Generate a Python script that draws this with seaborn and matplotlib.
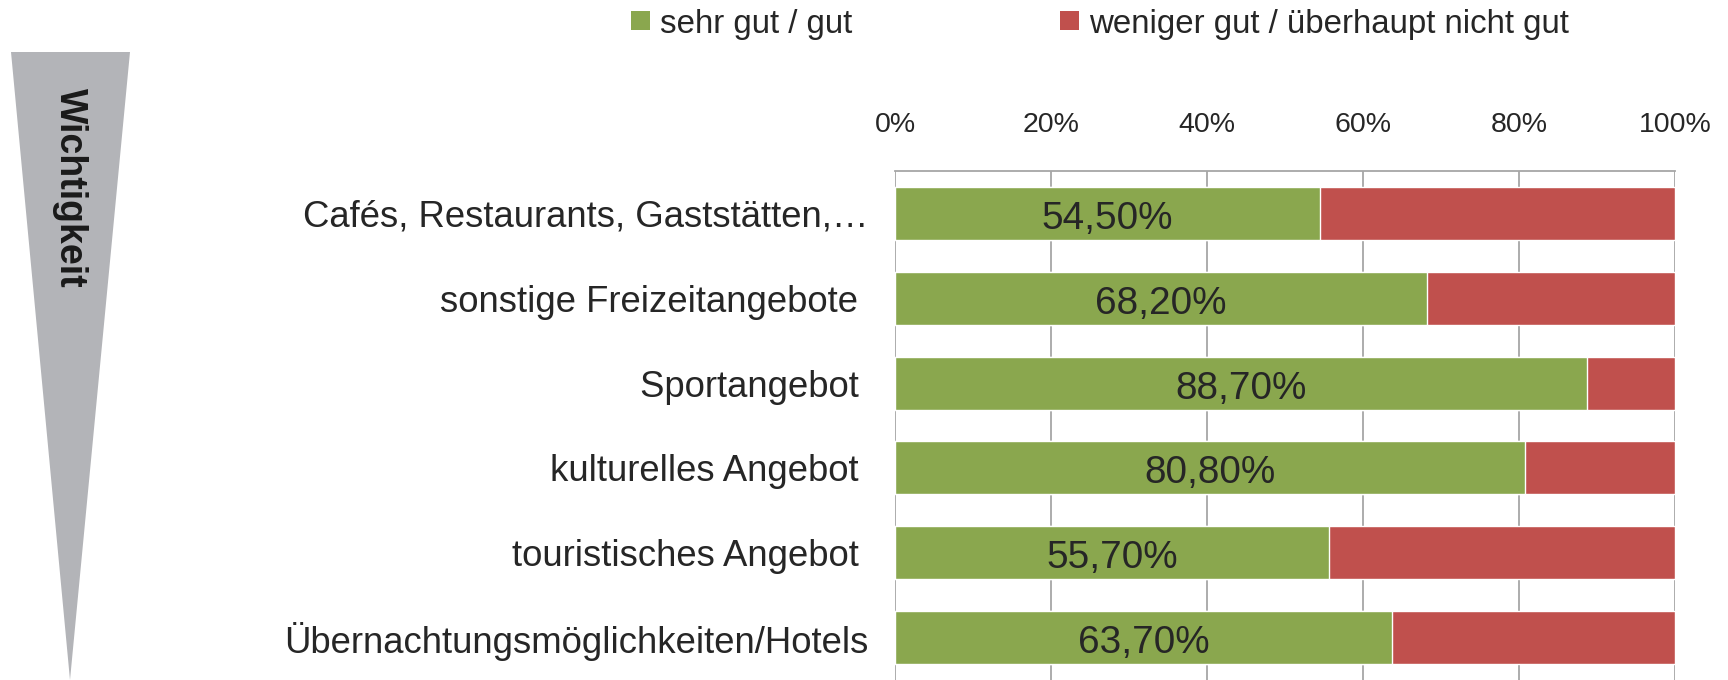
import matplotlib
matplotlib.use("Agg")
import matplotlib.pyplot as plt
from matplotlib import font_manager
from matplotlib.patches import Patch, Polygon
import seaborn as sns
import pandas as pd

# Survey results: rating of local offers, ordered by importance
categories = [
    "Cafés, Restaurants, Gaststätten,…",
    "sonstige Freizeitangebote ",
    "Sportangebot ",
    "kulturelles Angebot ",
    "touristisches Angebot ",
    "Übernachtungsmöglichkeiten/Hotels",
]
good = [54.5, 68.2, 88.7, 80.8, 55.7, 63.7]
poor = [45.5, 31.8, 11.3, 19.2, 44.3, 36.3]
series_labels = ["sehr gut / gut", "weniger gut / überhaupt nicht gut"]
x_ticks = [0, 20, 40, 60, 80, 100]
x_ticklabels = ["0%", "20%", "40%", "60%", "80%", "100%"]
side_label = "Wichtigkeit"

GREEN = "#8aa74e"
RED = "#c0504d"
GRID = "#a6a6a6"
TRI = "#b3b4b8"

sns.set_theme(style="white")
installed = {f.name for f in font_manager.fontManager.ttflist}
if "Liberation Sans Narrow" in installed:
    main_font, k = "Liberation Sans Narrow", 1.0
else:
    main_font, k = "Liberation Sans", 0.82
plt.rcParams["font.family"] = [main_font, "DejaVu Sans"]

df = pd.DataFrame({"Kategorie": categories, "gut": good, "schlecht": poor})
df["gesamt"] = df["gut"] + df["schlecht"]

W, H = 1728, 680
fig = plt.figure(figsize=(W / 100, H / 100), dpi=100)
ax = fig.add_axes([895 / W, 0.0, (1675 - 895) / W, 1 - 171 / H])

sns.barplot(data=df, y="Kategorie", x="gesamt", color=RED, width=0.625,
            saturation=1, orient="h", ax=ax, zorder=3)
sns.barplot(data=df, y="Kategorie", x="gut", color=GREEN, width=0.625,
            saturation=1, orient="h", ax=ax, zorder=3)

# value labels centred in the green segments
for i, v in enumerate(good):
    ax.annotate(f"{v:.2f}%".replace(".", ","), xy=(v / 2, i),
                xytext=(0, -4), textcoords="offset points",
                ha="center", va="center", fontsize=34 * k, color="#262626",
                zorder=4)

ax.set_xlim(0, 100)
ax.set_ylim(len(categories) - 0.5, -0.5)
ax.set_xticks(x_ticks)
ax.set_xticklabels(x_ticklabels)
ax.xaxis.tick_top()
ax.tick_params(axis="x", length=0, pad=24, labelsize=25 * k, labelcolor="#262626")
ax.tick_params(axis="y", length=0, pad=19, labelsize=32 * k, labelcolor="#262626")
ax.set_xlabel("")
ax.set_ylabel("")
ax.grid(axis="x", color=GRID, linewidth=1.3, zorder=0)
ax.grid(axis="y", visible=False)
for side in ["left", "right", "bottom"]:
    ax.spines[side].set_visible(False)
ax.spines["top"].set_color(GRID)
ax.spines["top"].set_linewidth(1.3)

# legend across the top
handles = [Patch(facecolor=GREEN, edgecolor="none"),
           Patch(facecolor=RED, edgecolor="none")]
fig.legend(handles, series_labels, loc="center", ncol=2,
           bbox_to_anchor=(1100 / W, 1 - 24 / H), frameon=False,
           fontsize=29 * k, handlelength=0.57, handleheight=0.5,
           handletextpad=0.3, columnspacing=6.3, labelcolor="#262626")

# importance wedge on the left
tri = Polygon([(11 / W, 1 - 52 / H), (130 / W, 1 - 52 / H), (70 / W, 0.0)],
              closed=True, transform=fig.transFigure, facecolor=TRI,
              edgecolor="none")
fig.patches.append(tri)
fig.text(70 / W, 1 - 188 / H, side_label, rotation=-90, ha="center",
         va="center", fontsize=27, fontweight="bold", color="#1a1a1a",
         family=["Liberation Sans", "DejaVu Sans"])

fig.savefig("out.png", dpi=100)
